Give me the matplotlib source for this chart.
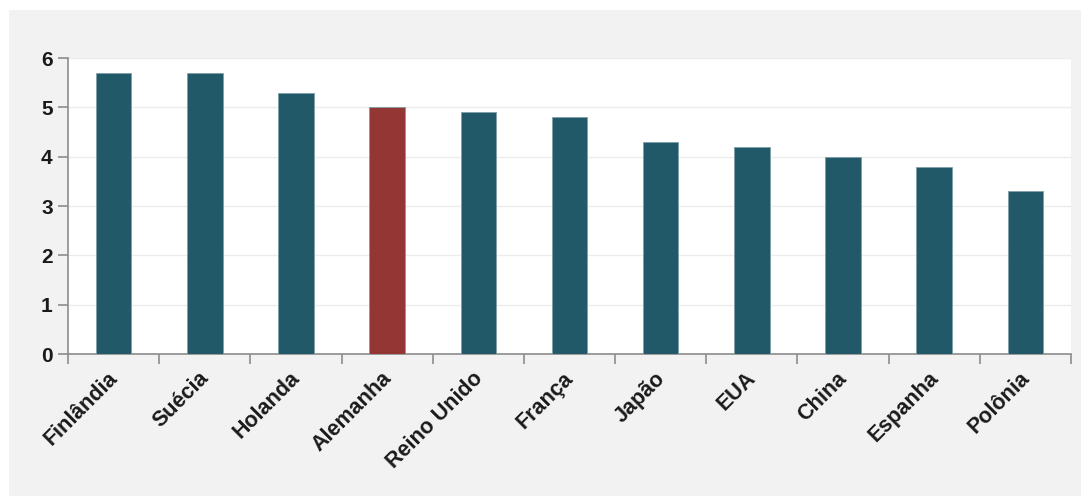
import numpy as np
import matplotlib.pyplot as plt
from matplotlib.patches import Rectangle

paises = ['Finlândia', 'Suécia', 'Holanda', 'Alemanha', 'Reino Unido', 'França',
          'Japão', 'EUA', 'China', 'Espanha', 'Polônia']
valores = [5.7, 5.7, 5.3, 5.0, 4.9, 4.8, 4.3, 4.2, 4.0, 3.8, 3.3]
destaque = 'Alemanha'

plt.rcParams['font.family'] = ['Liberation Sans', 'DejaVu Sans']

fig = plt.figure(figsize=(10.83, 4.97), dpi=100)
fig.patch.set_facecolor('white')
# fundo cinza do painel
fig.patches.append(Rectangle((9 / 1083, 1 / 497), 1072 / 1083, 486 / 497,
                             transform=fig.transFigure, facecolor='#f2f2f2',
                             edgecolor='none', zorder=0))

ax = fig.add_axes([68 / 1083, 1 - 354 / 497, 1003 / 1083, 296 / 497])
ax.set_zorder(2)
ax.set_facecolor('white')

x = np.arange(len(paises))
cores = ['#943634' if p == destaque else '#225968' for p in paises]
ax.bar(x, valores, width=0.39, color=cores, edgecolor='#7f9ea8', linewidth=0.6, zorder=3)

ax.set_xlim(-0.5, len(paises) - 0.5)
ax.set_ylim(0, 6)
ax.set_yticks(range(0, 7))
ax.yaxis.grid(True, color='#ececec', linewidth=1, zorder=0)

# ticks do eixo x nas divisas entre categorias; rótulos um pouco à esquerda do centro
ax.set_xticks(np.arange(-0.5, len(paises)), minor=False)
ax.set_xticklabels([])
ax.set_xticks(x - 0.07, minor=True)
ax.set_xticklabels(paises, minor=True, rotation=45, ha='right', rotation_mode='anchor',
                   fontsize=15.5, fontweight='bold', color='#1a1a1a')
ax.tick_params(axis='x', which='minor', length=0, pad=10)
ax.tick_params(axis='x', which='major', length=7, color='#8c8c8c', width=1.2)
ax.tick_params(axis='y', length=7, color='#8c8c8c', width=1.2, labelsize=15,
               labelcolor='#1a1a1a', pad=4)
for t in ax.get_yticklabels():
    t.set_fontweight('bold')

for s in ['top', 'right']:
    ax.spines[s].set_visible(False)
for s in ['left', 'bottom']:
    ax.spines[s].set_color('#8c8c8c')
    ax.spines[s].set_linewidth(1.2)

plt.savefig('out.png', dpi=100, facecolor=fig.get_facecolor())
